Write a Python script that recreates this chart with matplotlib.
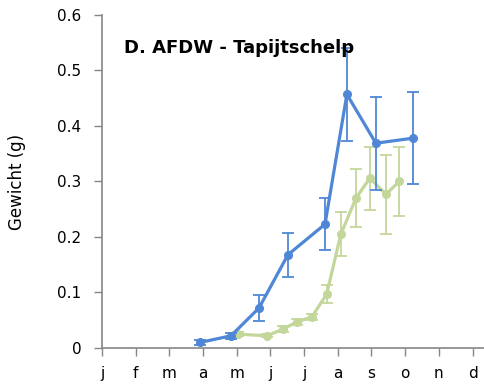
import matplotlib.pyplot as plt

# months (tick labels) and measurement positions in months from 1 jan
months = ["j", "f", "m", "a", "m", "j", "j", "a", "s", "o", "n", "d"]

blue_x = [2.91, 3.83, 4.66, 5.52, 6.62, 7.27, 8.13, 9.23]
blue_y = [0.010, 0.022, 0.072, 0.168, 0.223, 0.457, 0.369, 0.378]
blue_err = [0.005, 0.005, 0.024, 0.040, 0.047, 0.084, 0.084, 0.083]

green_x = [4.04, 4.90, 5.37, 5.79, 6.23, 6.67, 7.09, 7.54, 7.95, 8.43, 8.82]
green_y = [0.025, 0.022, 0.034, 0.047, 0.056, 0.097, 0.205, 0.270, 0.306, 0.277, 0.300]
green_err = [0.003, 0.003, 0.005, 0.006, 0.006, 0.016, 0.040, 0.052, 0.057, 0.071, 0.063]

BLUE = "#4f87d6"
GREEN = "#c4d79b"
GRAY = "#868686"

fig = plt.figure(figsize=(4.84, 3.85), dpi=100)
ax = fig.add_axes([0.2107, 0.0961, 0.7893, 0.865])

ax.errorbar(blue_x, blue_y, yerr=blue_err, color=BLUE, lw=2.3, marker="o", ms=5.5,
            ecolor=BLUE, elinewidth=1.3, capsize=4, capthick=1.3, zorder=3)
ax.errorbar(green_x, green_y, yerr=green_err, color=GREEN, lw=2.3, marker="o", ms=5.5,
            ecolor=GREEN, elinewidth=1.3, capsize=4, capthick=1.3, zorder=2)

ax.set_xlim(0, 11.34)
ax.set_ylim(0, 0.6)
ax.set_xticks(range(12))
ax.set_xticklabels(months)
ax.set_yticks([0, 0.1, 0.2, 0.3, 0.4, 0.5, 0.6])
ax.set_yticklabels(["0", "0.1", "0.2", "0.3", "0.4", "0.5", "0.6"])

for s in ["top", "right"]:
    ax.spines[s].set_visible(False)
for s in ["left", "bottom"]:
    ax.spines[s].set_color(GRAY)
    ax.spines[s].set_linewidth(1.2)
ax.tick_params(axis="both", color=GRAY, length=6, width=1, labelsize=11, labelcolor="black")
ax.tick_params(axis="x", pad=7)
ax.tick_params(axis="y", pad=9)

ax.set_ylabel("Gewicht (g)", fontsize=12, labelpad=22)
ax.text(0.058, 0.9, "D. AFDW - Tapijtschelp", transform=ax.transAxes,
        fontsize=13, fontweight="bold", va="center", ha="left")

fig.savefig("out.png", dpi=100)
